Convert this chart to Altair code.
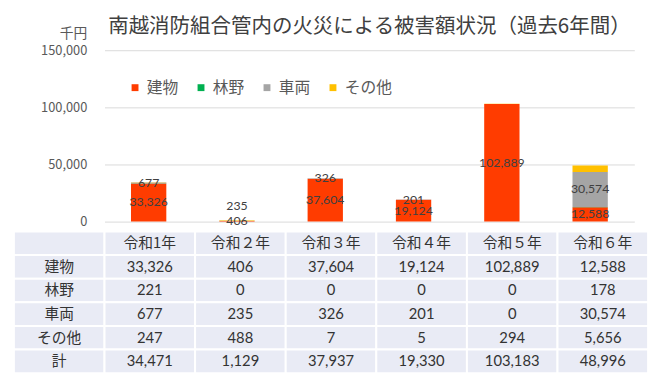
import altair as alt
import pandas as pd

# ---- data ----
years = ["令和1年", "令和２年", "令和３年", "令和４年", "令和５年", "令和６年"]
series = ["建物", "林野", "車両", "その他"]
building = [33326, 406, 37604, 19124, 102889, 12588]
forest = [221, 0, 0, 0, 0, 178]
vehicle = [677, 235, 326, 201, 0, 30574]
other = [247, 488, 7, 5, 294, 5656]
totals = [34471, 1129, 37937, 19330, 103183, 48996]
total_label = "計"
y_ticks = [0, 50000, 100000, 150000]
unit_label = "千円"
title_text = "南越消防組合管内の火災による被害額状況（過去6年間）"
colors = ["#FF3C00", "#00B050", "#A5A5A5", "#FFC000"]
labelled_series = ["建物", "車両"]

JP = "Noto Sans CJK JP"
NUM = "Lato"
GREY = "#595959"
TXT = "#333333"

# ---- stacked segments ----
values = [building, forest, vehicle, other]
rows = []
for i, yr in enumerate(years):
    base = 0
    for j, s in enumerate(series):
        v = values[j][i]
        rows.append(dict(year=yr, series=s, value=v, start=base, end=base + v,
                         mid=base + v / 2, label=f"{v:,}"))
        base += v
df = pd.DataFrame(rows)

lab = df[df["series"].isin(labelled_series) & (df["value"] > 0)].copy()
# flag labels that would collide with the label below them
lab["crowded"] = False
for yr in years:
    sub = lab[lab["year"] == yr].sort_values("mid")
    prev = None
    for idx, r in sub.iterrows():
        if prev is not None and r["mid"] - prev < 5000:
            lab.loc[idx, "crowded"] = True
        prev = r["mid"]

xenc = alt.X("year:N", sort=years, axis=None,
             scale=alt.Scale(paddingInner=0.6, paddingOuter=0.3))
yscale = alt.Scale(domain=[0, 150000], nice=False)

bars = alt.Chart(df).mark_bar().encode(
    x=xenc,
    y=alt.Y("start:Q", scale=yscale,
            axis=alt.Axis(values=y_ticks, format=",d", title=unit_label,
                          titleAngle=0, titleAlign="right", titleBaseline="middle",
                          titleX=-18, titleY=-17, titleFont=JP, titleFontSize=14,
                          titleFontWeight="normal", titleColor=GREY,
                          labelFont=JP, labelFontSize=13, labelColor=GREY,
                          labelPadding=18, ticks=False, domain=False,
                          gridColor="#D9D9D9", minExtent=92, maxExtent=92)),
    y2="end:Q",
    color=alt.Color("series:N", sort=series,
                    scale=alt.Scale(domain=series, range=colors),
                    legend=alt.Legend(title=None, orient="none", direction="horizontal",
                                      legendX=23, legendY=30, columns=4,
                                      symbolType="square", symbolSize=49,
                                      symbolStrokeWidth=0, labelFont=JP,
                                      labelFontSize=16, labelColor=GREY,
                                      labelOffset=4, columnPadding=14)),
)

labels = alt.Chart(lab).transform_filter("!datum.crowded").mark_text(
    font=NUM, fontSize=12.5, color="#404040", baseline="middle"
).encode(x=xenc, y=alt.Y("mid:Q", scale=yscale), text="label:N")

labels_up = alt.Chart(lab).transform_filter("datum.crowded").mark_text(
    font=NUM, fontSize=12.5, color="#404040", baseline="middle", dy=-15
).encode(x=xenc, y=alt.Y("mid:Q", scale=yscale), text="label:N")

top = alt.layer(bars, labels, labels_up).properties(
    width=538, height=174,
    title=alt.TitleParams(title_text, font=JP, fontSize=20.8, fontWeight="normal",
                          color="#404040", anchor="middle", frame="group", offset=-11),
)

# ---- data table ----
col_order = ["_head"] + years
row_order = ["_head"] + series + [total_label]
table_values = [building, forest, vehicle, other, totals]
cells = []
for c in col_order:
    cells.append(dict(col=c, row="_head", text="" if c == "_head" else c, kind="jp"))
for r_i, r in enumerate(series + [total_label]):
    cells.append(dict(col="_head", row=r, text=r, kind="jp"))
    for c_i, yr in enumerate(years):
        cells.append(dict(col=yr, row=r, text=f"{table_values[r_i][c_i]:,}", kind="num"))
tdf = pd.DataFrame(cells)

# the row-header column sits left of the table's plot area, under the y axis
tx = alt.X("col:N", sort=col_order, axis=None,
           scale=alt.Scale(paddingInner=0, paddingOuter=0, range=[-92, 552]))
ty = alt.Y("row:N", sort=row_order, axis=None,
           scale=alt.Scale(paddingInner=0, paddingOuter=0))

tcells = alt.Chart(tdf).mark_rect(fill="#E9EBF5", stroke="white", strokeWidth=2).encode(x=tx, y=ty)
tjp = alt.Chart(tdf).transform_filter("datum.kind == 'jp'").mark_text(
    font=JP, fontSize=15, color=TXT, baseline="middle").encode(x=tx, y=ty, text="text:N")
tnum = alt.Chart(tdf).transform_filter("datum.kind == 'num'").mark_text(
    font=NUM, fontSize=15, color=TXT, baseline="middle").encode(x=tx, y=ty, text="text:N")

table = alt.layer(tcells, tjp, tnum).properties(width=552, height=144)

chart = alt.vconcat(top, table, spacing=2).configure_view(stroke=None)
chart.save("out.html", embed_options={"renderer": "svg", "actions": False})
